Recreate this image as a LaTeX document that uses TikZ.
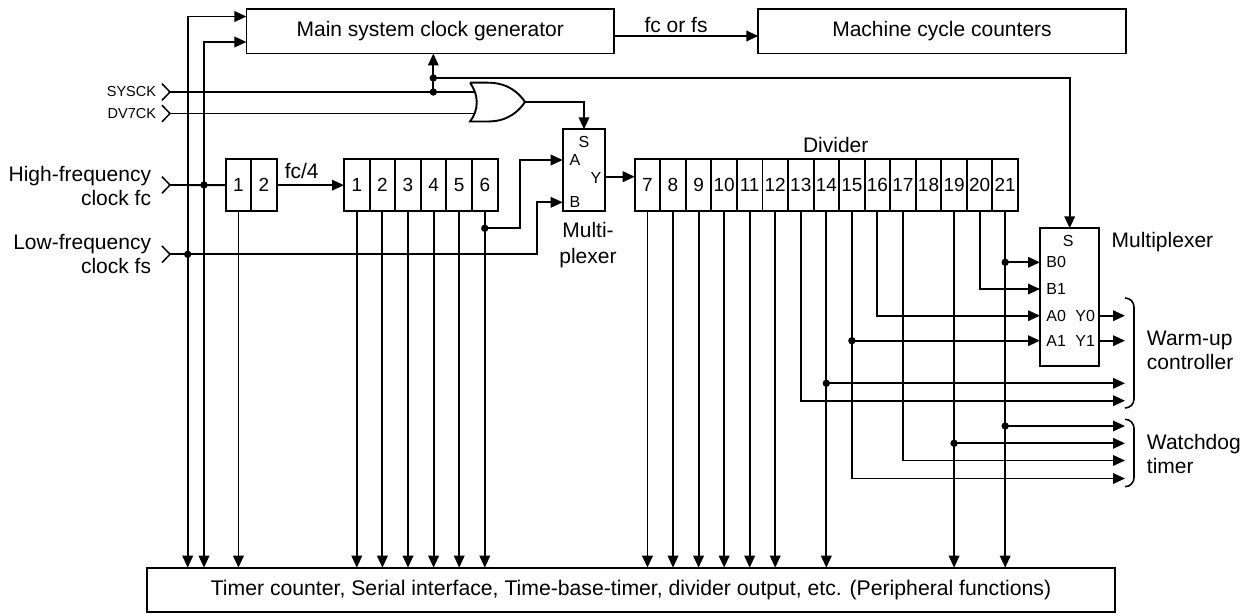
\documentclass[tikz,border=0pt]{standalone}
\usepackage{fontspec}
\setmainfont{Liberation Sans}
\usetikzlibrary{arrows.meta,calc}
\begin{document}
\begin{tikzpicture}[x=1pt,y=-1pt,
  line width=1.9pt,
  arr/.style={-{Triangle[length=12pt,width=10.5pt]}},
  box/.style={draw, line width=1.9pt, inner sep=0pt, outer sep=0pt, font=\fontsize{21}{25}\selectfont},
  cell/.style={draw, line width=1.9pt, inner sep=0pt, outer sep=0pt, minimum height=51.7pt, font=\fontsize{19}{22}\selectfont},
  lbl/.style={inner sep=0pt, font=\fontsize{21}{24}\selectfont},
  pin/.style={inner sep=0pt, font=\fontsize{16}{19}\selectfont},
  sig/.style={inner sep=0pt, font=\fontsize{14.5}{17}\selectfont},
  brace/.style={line width=1.6pt},
]
\useasboundingbox (0,0) rectangle (1256,615);

% main boxes
\node[box, minimum width=367.7pt, minimum height=44.5pt] (gen) at (430.3,31.25) {Main system clock generator};
\node[box, minimum width=367.4pt, minimum height=44.5pt] (mcc) at (942,31.25) {Machine cycle counters};
\node[box, minimum width=968pt, minimum height=44.6pt, font=\fontsize{21.2}{25}\selectfont] (bot) at (631,590) {Timer counter, Serial interface, Time-base-timer, divider output, etc. (Peripheral functions)};

\coordinate (fca) at ($(gen.east)+(0,4.75)$);
\draw[arr] (fca) -- (fca -| mcc.west);
\node[lbl] (fcfs) at (676,25) {fc or fs};

% cells
\foreach \k in {1,2} \node[cell, minimum width=25.5pt] (p\k) at ({225.7+(\k-0.5)*25.5},185.15) {\k};
\foreach \k in {1,...,6} \node[cell, minimum width=25.6pt] (c\k) at ({344+(\k-0.5)*25.6},185.15) {\k};
\foreach \k in {7,...,21} \node[cell, minimum width=25.55pt] (d\k) at ({634.7+(\k-6.5)*25.55},185.15) {\k};
\node[lbl] (divlbl) at (835.7,145) {Divider};
\node[lbl] (fc4) at (301.7,171) {fc/4};
\draw[arr] (p2.east) -- (c1.west);

% multiplexer 1
\node[draw, line width=1.9pt, minimum width=42.6pt, minimum height=81.4pt, inner sep=0pt, outer sep=0pt] (mux1) at (584,170) {};
\node[pin] (m1s) at (584,142) {S};
\node[pin] (m1a) at (575,160) {A};
\node[pin] (m1y) at (596,178) {Y};
\node[pin] (m1b) at (575,202) {B};
\node[lbl, align=center, font=\fontsize{21}{26}\selectfont] (mux1lbl) at (588,245) {Multi-\\plexer};
\coordinate (mA) at ($(mux1.west)+(0,-10)$);
\coordinate (mB) at ($(mux1.west)+(0,32.3)$);
\coordinate (mY) at ($(mux1.east)+(0,6.7)$);
\draw[arr] (mY) -- (mY -| d7.west);

% multiplexer 2
\node[draw, line width=1.9pt, minimum width=59.3pt, minimum height=137.7pt, inner sep=0pt, outer sep=0pt] (mux2) at (1069.65,297.15) {};
\node[pin] (m2s) at (1068.3,241) {S};
\coordinate (mB0) at ($(mux2.west)+(0,-34.85)$);
\coordinate (mB1) at ($(mux2.west)+(0,-8.15)$);
\coordinate (mA0) at ($(mux2.west)+(0,18.55)$);
\coordinate (mA1) at ($(mux2.west)+(0,43.55)$);
\node[pin, anchor=west] (lb0) at ($(mB0)+(5.5,0)$) {B0};
\node[pin, anchor=west] (lb1) at ($(mB1)+(5.5,0)$) {B1};
\node[pin, anchor=west] (la0) at ($(mA0)+(5.5,0)$) {A0};
\node[pin, anchor=west] (la1) at ($(mA1)+(5.5,0)$) {A1};
\node[pin, anchor=east] (ly0) at (mA0 -| 1096,0) {Y0};
\node[pin, anchor=east] (ly1) at (mA1 -| 1096,0) {Y1};
\node[lbl, anchor=west] (mux2lbl) at (1110.7,241.7) {Multiplexer};

% output targets
\coordinate (w1) at (1125,315.7);
\coordinate (w2) at (1125,340.7);
\coordinate (w3) at (1125,383.3);
\coordinate (w4) at (1125,400.7);
\coordinate (g1) at (1125,426);
\coordinate (g2) at (1125,443.3);
\coordinate (g3) at (1125,460.5);
\coordinate (g4) at (1125,478.5);
\draw[arr] (mux2.east |- w1) -- (w1);
\draw[arr] (mux2.east |- w2) -- (w2);

% braces and labels
\draw[brace] (1125,298) to[out=0,in=90] (1134,307) -- (1134,399) to[out=-90,in=0] (1125,408);
\draw[brace] (1125,419.3) to[out=0,in=90] (1134,428.3) -- (1134,477.7) to[out=-90,in=0] (1125,486.7);
\node[lbl, anchor=west, align=left] (wlbl) at (1146,350) {Warm-up\\controller};
\node[lbl, anchor=west, align=left] (wdlbl) at (1146,453.5) {Watchdog\\timer};

% input signals
\coordinate (insys) at (170,92);
\coordinate (indv) at (170,113.5);
\coordinate (infc) at (170,185);
\coordinate (infs) at (170,254.3);
\foreach \c in {insys,indv,infc,infs}
  \draw[line width=1.5pt] ($(\c)+(-8,-8.3)$) -- (\c) -- ($(\c)+(-8,8.3)$);
\node[sig, anchor=east] (lsys) at (157,92) {SYSCK};
\node[sig, anchor=east] (ldv) at (157,113.5) {DV7CK};
\node[lbl, anchor=east, align=right] (lfc) at (152,186) {High-frequency\\clock fc};
\node[lbl, anchor=east, align=right] (lfs) at (152,254) {Low-frequency\\clock fs};

% OR gate
\coordinate (orA) at (475,92);
\coordinate (orB) at (475,113.5);
\coordinate (orY) at (525,102);
\draw (470,82.7) -- (488,82.7) .. controls (508,82.7) and (519,93) .. (orY)
  .. controls (519,111) and (508,121.5) .. (488,121.5) -- (470,121.5)
  .. controls (479,110) and (479,95) .. (470,82.7);
\draw (insys) -- (orA);
\draw (indv) -- (orB);
\draw[arr] (orY) -| (mux1.north);

% system clock junctions
\coordinate (jsys) at (433.3,92);
\coordinate (jtop) at (433.3,78);
\draw (jsys) -- (jtop);
\draw[arr] (jtop) -- (jtop |- gen.south);
\draw[arr] (jtop) -| (mux2.north);
\fill (jsys) circle (3.7pt);
\fill (jtop) circle (3.7pt);

% fc / fs distribution
\coordinate (gin1) at ($(gen.west)+(0,-14.75)$);
\coordinate (gin2) at ($(gen.west)+(0,10.75)$);
\coordinate (jfc) at (204,185);
\coordinate (jfs) at (187.7,254.3);
\draw (infc) -- (p1.west);
\draw[arr] (jfc) |- (gin2);
\draw[arr] (jfc) -- (jfc |- bot.north);
\draw[arr] (jfs) |- (gin1);
\draw[arr] (jfs) -- (jfs |- bot.north);
\draw[arr] (infs) -- ++(366.7,0) |- (mB);
\fill (jfc) circle (3.7pt);
\fill (jfs) circle (3.7pt);

% prescaler and counter outputs
\draw[arr] (p1.south) -- (p1.south |- bot.north);
\foreach \k in {1,...,6} \draw[arr] (c\k.south) -- (c\k.south |- bot.north);
\coordinate (j6) at ($(c6.south)+(0,17.3)$);
\draw[arr] (j6) -- ++(35.2,0) |- (mA);
\fill (j6) circle (3.7pt);

% divider outputs
\foreach \k in {7,8,9,10,11,12,14,19,21} \draw[arr] (d\k.south) -- (d\k.south |- bot.north);
\draw[arr] (d13.south) |- (w4);
\draw[arr] (d14.south |- w3) -- (w3);
\fill (d14.south |- w3) circle (3.7pt);
\draw[arr] (d15.south) |- (g4);
\draw[arr] (d15.south |- mA1) -- (mA1);
\fill (d15.south |- mA1) circle (3.7pt);
\draw[arr] (d16.south) |- (mA0);
\draw[arr] (d17.south) |- (g3);
\draw[arr] (d19.south |- g2) -- (g2);
\fill (d19.south |- g2) circle (3.7pt);
\draw[arr] (d20.south) |- (mB1);
\draw[arr] (d21.south |- mB0) -- (mB0);
\fill (d21.south |- mB0) circle (3.7pt);
\draw[arr] (d21.south |- g1) -- (g1);
\fill (d21.south |- g1) circle (3.7pt);
\end{tikzpicture}
\end{document}
